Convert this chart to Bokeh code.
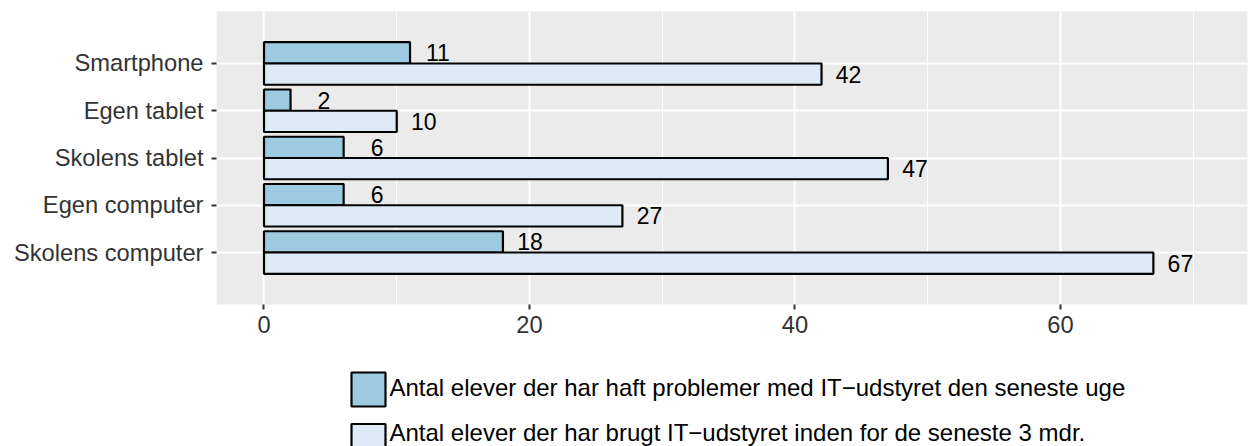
from bokeh.plotting import figure
from bokeh.layouts import column
from bokeh.models import ColumnDataSource, FactorRange, Range1d, FixedTicker
from bokeh.transform import dodge
from bokeh.core.properties import value
from bokeh.embed import file_html
from bokeh.resources import INLINE

# ---- data ----
categories = ["Skolens computer", "Egen computer", "Skolens tablet", "Egen tablet", "Smartphone"]
problems = [18, 6, 6, 2, 11]      # Antal elever der har haft problemer ... seneste uge
used = [67, 27, 47, 10, 42]       # Antal elever der har brugt ... seneste 3 mdr.
series_labels = [
    "Antal elever der har haft problemer med IT\u2212udstyret den seneste uge",
    "Antal elever der har brugt IT\u2212udstyret inden for de seneste 3 mdr.",
]
series_colors = ["#9ECAE1", "#DEEBF7"]
x_ticks = [0, 20, 40, 60]
x_minor = [10, 30, 50, 70]

FONT = "Liberation Sans"
W = 1248
H_MAIN = 346
H_TOTAL = 446

src = ColumnDataSource(dict(
    cat=categories,
    problems=problems,
    used=used,
    problems_lbl=[v + 3 for v in problems],
    used_lbl=[v + 3 for v in used],
    problems_txt=[str(v) for v in problems],
    used_txt=[str(v) for v in used],
))

p = figure(
    width=W, height=H_MAIN,
    y_range=FactorRange(*categories, range_padding=0.6, range_padding_units="absolute"),
    x_range=Range1d(-3.578, 74.09),
    output_backend="svg", toolbar_location=None,
    min_border_left=216, min_border_right=1, min_border_top=11, min_border_bottom=42,
    background_fill_color="#EBEBEB", border_fill_color="white",
    outline_line_color=None,
)

p.hbar(y=dodge("cat", 0.225, range=p.y_range), right="problems", left=0, height=0.45,
       source=src, fill_color=series_colors[0], line_color="black", line_width=2.2)
p.hbar(y=dodge("cat", -0.225, range=p.y_range), right="used", left=0, height=0.45,
       source=src, fill_color=series_colors[1], line_color="black", line_width=2.2)

p.text(x="problems_lbl", y=dodge("cat", 0.225, range=p.y_range), text="problems_txt", source=src,
       text_align="right", text_baseline="middle", text_font=value(FONT),
       text_font_size="23px", text_color="black")
p.text(x="used_lbl", y=dodge("cat", -0.225, range=p.y_range), text="used_txt", source=src,
       text_align="right", text_baseline="middle", text_font=value(FONT),
       text_font_size="23px", text_color="black")

# grids
p.xgrid.ticker = FixedTicker(ticks=x_ticks, minor_ticks=x_minor)
p.xgrid.grid_line_color = "white"
p.xgrid.grid_line_width = 2
p.xgrid.minor_grid_line_color = "white"
p.xgrid.minor_grid_line_width = 1
p.ygrid.grid_line_color = "white"
p.ygrid.grid_line_width = 2

# axes
p.xaxis.ticker = FixedTicker(ticks=x_ticks)
for ax in (p.xaxis[0], p.yaxis[0]):
    ax.axis_line_color = None
    ax.major_tick_line_color = "#333333"
    ax.major_tick_line_width = 2
    ax.major_tick_out = 5
    ax.major_tick_in = 0
    ax.minor_tick_line_color = None
    ax.major_label_text_font = FONT
    ax.major_label_text_font_size = "23.7px"
    ax.major_label_text_color = "#333333"
p.xaxis.major_label_standoff = 6
p.yaxis.major_label_standoff = 8

# ---- legend strip below the chart (pixel-mapped ranges) ----
q = figure(
    width=W, height=H_TOTAL - H_MAIN,
    x_range=Range1d(216, W - 1), y_range=Range1d(H_TOTAL, H_MAIN),
    x_axis_type=None, y_axis_type=None,
    output_backend="svg", toolbar_location=None,
    min_border_left=216, min_border_right=1, min_border_top=0, min_border_bottom=0,
    background_fill_color="white", border_fill_color="white", outline_line_color=None,
)
q.xgrid.visible = False
q.ygrid.visible = False

legend_src = ColumnDataSource(dict(
    label=series_labels,
    color=series_colors,
    key_left=[351, 351],
    key_right=[385, 385],
    key_top=[372, 423.5],
    key_bottom=[406, 457.5],
    text_x=[389, 389],
    text_y=[387, 431.5],
))
q.quad(left="key_left", right="key_right", top="key_top", bottom="key_bottom",
       fill_color="color", line_color="black", line_width=2.2, source=legend_src)
q.text(x="text_x", y="text_y", text="label", source=legend_src,
       text_align="left", text_baseline="middle", text_font=value(FONT),
       text_font_size="24px", text_color="black")

layout = column(p, q, spacing=0)
open("out.html", "w").write(file_html(layout, INLINE))
